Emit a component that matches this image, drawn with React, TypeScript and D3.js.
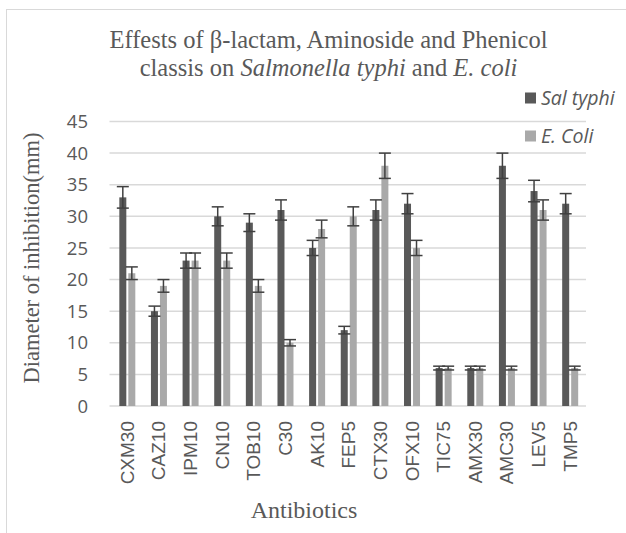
import React from "react";
import * as d3 from "d3";

// antibiotic discs on the x axis
const categories = ["CXM30", "CAZ10", "IPM10", "CN10", "TOB10", "C30", "AK10", "FEP5", "CTX30", "OFX10", "TIC75", "AMX30", "AMC30", "LEV5", "TMP5"];
// inhibition diameters (mm) and their error bars
const salTyphi = [33, 15, 23, 30, 29, 31, 25, 12, 31, 32, 6, 6, 38, 34, 32];
const salTyphiErr = [1.7, 0.8, 1.2, 1.5, 1.4, 1.6, 1.2, 0.6, 1.6, 1.6, 0.3, 0.3, 2, 1.7, 1.6];
const eColi = [21, 19, 23, 23, 19, 10, 28, 30, 38, 25, 6, 6, 6, 31, 6];
const eColiErr = [1, 1, 1.2, 1.2, 1, 0.5, 1.4, 1.5, 2, 1.2, 0.3, 0.3, 0.3, 1.6, 0.3];
const yTicks = [0, 5, 10, 15, 20, 25, 30, 35, 40, 45];

const series = [
    { name: "Sal typhi", values: salTyphi, err: salTyphiErr, color: "#595959" },
    { name: "E. Coli", values: eColi, err: eColiErr, color: "#a9a9a9" },
];

const W = 626, H = 533;
const left = 111.5, right = 586, top = 121.5, bottom = 406;
const barW = 7, capW = 12;
const serif = "'Liberation Serif', 'Times New Roman', serif";
const sans = "'Liberation Sans', Arial, sans-serif";
const open = "'Open Sans', sans-serif";

const App = () => {
    const x = d3.scaleBand().domain(categories).range([left, right]);
    const y = d3.scaleLinear().domain([0, 45]).range([bottom, top]);
    const offsets = [-4.5, 4.5];

    return (
        <svg width={W} height={H} style={{ position: "absolute", left: 0, top: 0, background: "#fff" }}>
            <rect x={6.5} y={9.5} width={W + 20} height={H + 20} fill="#fff" stroke="#d9d9d9" />

            {/* title */}
            <text x={328.5} y={48} textAnchor="middle" fontFamily={serif} fontSize={24.5} fill="#595959">
                Effests of β-lactam, Aminoside and Phenicol
            </text>
            <text x={328.5} y={76} textAnchor="middle" fontFamily={serif} fontSize={24.5} fill="#595959">
                classis on <tspan fontStyle="italic">Salmonella typhi</tspan> and <tspan fontStyle="italic">E. coli</tspan>
            </text>

            {/* grid + y ticks */}
            {yTicks.map(t => (
                <g key={t}>
                    <line x1={left - 2} x2={right} y1={y(t)} y2={y(t)} stroke="#d9d9d9" strokeWidth={1.5} />
                    <text x={88} y={y(t)} dy="0.36em" textAnchor="end" fontFamily={open} fontSize={18.5} fill="#595959">{t}</text>
                </g>
            ))}

            {/* bars */}
            {series.map((s, si) => (
                <g key={s.name}>
                    {categories.map((c, i) => {
                        const cx = (x(c) as number) + x.bandwidth() / 2 + offsets[si];
                        return (
                            <rect key={c} x={cx - barW / 2} y={y(s.values[i])} width={barW}
                                height={y(0) - y(s.values[i])} fill={s.color} />
                        );
                    })}
                </g>
            ))}

            {/* error bars */}
            {series.map((s, si) => (
                <g key={s.name + "-err"} stroke="#404040" strokeWidth={1.5}>
                    {categories.map((c, i) => {
                        const cx = (x(c) as number) + x.bandwidth() / 2 + offsets[si];
                        const hi = y(s.values[i] + s.err[i]);
                        const lo = y(s.values[i] - s.err[i]);
                        return (
                            <g key={c}>
                                <line x1={cx} x2={cx} y1={hi} y2={lo} />
                                <line x1={cx - capW / 2} x2={cx + capW / 2} y1={hi} y2={hi} />
                                <line x1={cx - capW / 2} x2={cx + capW / 2} y1={lo} y2={lo} />
                            </g>
                        );
                    })}
                </g>
            ))}

            {/* x tick labels */}
            {categories.map(c => {
                const cx = (x(c) as number) + x.bandwidth() / 2;
                return (
                    <text key={c} transform={`translate(${cx + 6.5},421) rotate(-90)`} textAnchor="end"
                        fontFamily={sans} fontSize={19} fill="#595959">{c}</text>
                );
            })}

            {/* axis titles */}
            <text x={304} y={518} textAnchor="middle" fontFamily={serif} fontSize={24} fill="#595959">Antibiotics</text>
            <text transform="translate(39,258) rotate(-90)" textAnchor="middle" fontFamily={serif} fontSize={22.5} fill="#595959">
                Diameter of  inhibition(mm)
            </text>

            {/* legend */}
            {series.map((s, i) => (
                <g key={s.name + "-leg"} transform={`translate(525,${92.5 + i * 38})`}>
                    <rect width={11} height={11} fill={s.color} />
                    <text x={16} y={5.5} dy="0.36em" fontFamily={open} fontStyle="italic" fontSize={19.5} fill="#595959">{s.name}</text>
                </g>
            ))}
        </svg>
    );
};

export default App;
